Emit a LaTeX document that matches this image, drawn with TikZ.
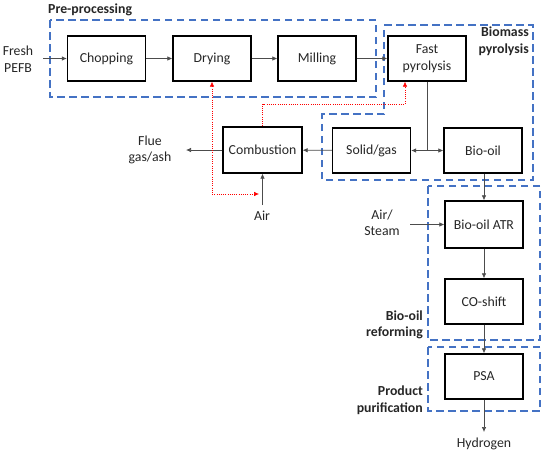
\documentclass[tikz,border=0pt]{standalone}
\usepackage{fontspec}
\setmainfont{Carlito}
\usetikzlibrary{arrows.meta}
\definecolor{grpblue}{RGB}{68,114,196}
\begin{document}
\begin{tikzpicture}[x=1pt,y=-1pt,
  font=\fontsize{13.8}{16.5}\selectfont,
  every node/.style={text=black!85},
  box/.style={draw=black, line width=1.3pt, minimum width=78pt, minimum height=45pt, inner sep=0pt, align=center},
  lbl/.style={align=center, inner sep=0pt},
  grplbl/.style={font=\fontsize{13.8}{16.5}\selectfont\bfseries, inner sep=0pt},
  flow/.style={draw=black!70, line width=0.7pt, -{Latex[length=5pt,width=4.5pt]}},
  heat/.style={draw=red, line width=0.6pt, dash pattern=on 1pt off 1.2pt, -{Latex[length=5pt,width=4.5pt]}},
  grp/.style={draw=grpblue, line width=1.6pt, dash pattern=on 7.5pt off 4.5pt}]
\useasboundingbox (0,0) rectangle (550,456);
% groups
\draw[grp] (50,20) rectangle (376,97);
\draw[grp] (384,25) -- (533,25) -- (533,180) -- (322,180) -- (322,114) -- (384,114) -- cycle;
\draw[grp] (428,186) rectangle (540,340);
\draw[grp] (428,347) rectangle (540,411);
\node[grplbl, anchor=west] (lpre) at (48,10) {Pre-processing};
\node[grplbl, anchor=north east, align=right] (lpyr) at (529,27) {Biomass\\pyrolysis};
\node[grplbl, anchor=east, align=right] (lref) at (423,325) {Bio-oil\\reforming};
\node[grplbl, anchor=east, align=right] (lpur) at (423,400) {Product\\purification};
% boxes
\node[box] (chop) at (106.5,58.5) {Chopping};
\node[box] (dry) at (212,58.5) {Drying};
\node[box] (mill) at (317,58.5) {Milling};
\node[box] (fp) at (427,58.5) {Fast\\pyrolysis};
\node[box] (sg) at (371.5,150.5) {Solid/gas};
\node[box] (bo) at (483,150.5) {Bio-oil};
\node[box, minimum width=79pt, minimum height=46pt] (comb) at (262.5,150) {Combustion};
\node[box, minimum height=47pt] (atr) at (484,224.5) {Bio-oil ATR};
\node[box] (cos) at (484,301.5) {CO-shift};
\node[box] (psa) at (484,376.5) {PSA};
% free texts
\node[lbl] (fresh) at (18,59) {Fresh\\PEFB};
\node[lbl] (flue) at (150,150) {Flue\\gas/ash};
\node[lbl] (air) at (262,216) {Air};
\node[lbl] (airst) at (382,223) {Air/\\Steam};
\node[lbl] (h2) at (484,444) {Hydrogen};
\coordinate (cfresh) at (43,58.5);
\coordinate (cflue) at (186,150);
\coordinate (cair) at (262.5,205);
\coordinate (cairst) at (410,224.5);
\coordinate (ch2) at (484,432);
\coordinate (j) at (427,150.5);
\coordinate (r1) at (405,104);
\coordinate (r2) at (259,194);
% flows
\draw[flow] (cfresh) -- (chop);
\draw[flow] (chop) -- (dry);
\draw[flow] (dry) -- (mill);
\draw[flow] (mill) -- (fp);
\draw[draw=black!70, line width=0.7pt] (fp.south) -- (j);
\draw[flow] (j) -- (sg.east);
\draw[flow] (j) -- (bo.west);
\draw[flow] (sg) -- (comb);
\draw[flow] (comb.west) -- (cflue);
\draw[flow] (cair) -- (comb.south);
\draw[flow] (bo.south -| atr) -- (atr.north);
\draw[flow] (cairst) -- (atr.west);
\draw[flow] (atr) -- (cos);
\draw[flow] (cos) -- (psa);
\draw[flow] (psa.south) -- (ch2);
% heat
\draw[heat] (comb.north) |- (r1) -- (r1 |- fp.south);
\draw[heat, {Latex[length=5pt,width=4.5pt]}-{Latex[length=5pt,width=4.5pt]}] (dry.south) |- (r2);
\end{tikzpicture}
\end{document}
